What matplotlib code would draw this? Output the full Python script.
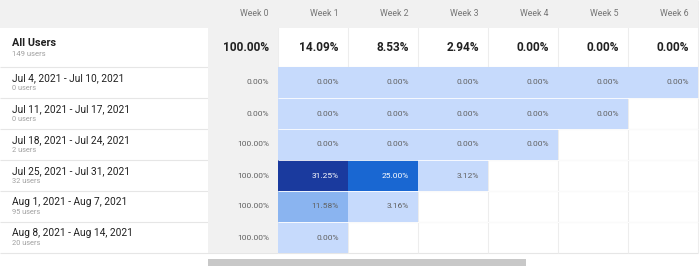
import matplotlib
matplotlib.use("Agg")
import matplotlib.pyplot as plt
from matplotlib.patches import Rectangle
from matplotlib.colors import ListedColormap, BoundaryNorm

plt.rcParams['font.family'] = ['Roboto', 'DejaVu Sans']

weeks = ["Week 0", "Week 1", "Week 2", "Week 3", "Week 4", "Week 5", "Week 6"]
all_users_total = 149
all_users_pct = [100.00, 14.09, 8.53, 2.94, 0.00, 0.00, 0.00]

cohorts = ["Jul 4, 2021 - Jul 10, 2021", "Jul 11, 2021 - Jul 17, 2021",
           "Jul 18, 2021 - Jul 24, 2021", "Jul 25, 2021 - Jul 31, 2021",
           "Aug 1, 2021 - Aug 7, 2021", "Aug 8, 2021 - Aug 14, 2021"]
cohort_users = [0, 0, 2, 32, 95, 20]
retention = [
    [0.00, 0.00, 0.00, 0.00, 0.00, 0.00, 0.00],
    [0.00, 0.00, 0.00, 0.00, 0.00, 0.00],
    [100.00, 0.00, 0.00, 0.00, 0.00],
    [100.00, 31.25, 25.00, 3.12],
    [100.00, 11.58, 3.16],
    [100.00, 0.00],
]

# colour buckets for the heat cells
cmap = ListedColormap(["#c6dafc", "#8ab4f0", "#1967d2", "#1a3a9e"])
norm = BoundaryNorm([0, 5, 20, 28, 100], cmap.N)

# layout in pixels
W, H = 700, 270
label_w = 208
col_w = 70
head_h = 28
all_h = 39
row_h = 31
grid_c = "#e6e6e6"
grey_bg = "#f1f1f1"

fig = plt.figure(figsize=(7, 2.7), dpi=100)
ax = fig.add_axes([0, 0, 1, 1])
ax.set_xlim(0, W)
ax.set_ylim(H, 0)
ax.axis('off')

n_rows = len(cohorts)
bottom = head_h + all_h + n_rows * row_h
right = label_w + col_w * len(weeks)

# header band and week 0 column
ax.add_patch(Rectangle((0, 0), right, head_h, color=grey_bg, lw=0))
ax.add_patch(Rectangle((label_w, head_h), col_w, bottom - head_h, color=grey_bg, lw=0))

for j, wk in enumerate(weeks):
    x1 = label_w + col_w * (j + 1)
    ax.text(x1 - 9, head_h / 2, wk, ha='right', va='center', fontsize=6.3, color="#757575")
    ax.text(x1 - 9, head_h + all_h / 2, f"{all_users_pct[j]:.2f}%", ha='right', va='center',
            fontsize=8.6, fontweight='bold', color="#212121")

ax.text(12, head_h + all_h / 2 - 4, "All Users", ha='left', va='center',
        fontsize=7.8, fontweight='bold', color="#212121")
ax.text(12, head_h + all_h / 2 + 6, f"{all_users_total} users", ha='left', va='center',
        fontsize=5.5, color="#9e9e9e")

for i, (name, n, vals) in enumerate(zip(cohorts, cohort_users, retention)):
    y0 = head_h + all_h + i * row_h
    ax.text(12, y0 + 11, name, ha='left', va='center', fontsize=7.3, color="#212121")
    ax.text(12, y0 + 21.5, f"{n} users", ha='left', va='center', fontsize=5.3, color="#a0a0a0")
    for j, v in enumerate(vals):
        x0 = label_w + col_w * j
        tc = "#616161"
        if j > 0:
            fc = cmap(norm(v))
            ax.add_patch(Rectangle((x0, y0), col_w, row_h, color=fc, lw=0))
            if v >= 20:
                tc = "white"
        ax.text(x0 + col_w - 9, y0 + row_h / 2, f"{v:.2f}%", ha='right', va='center',
                fontsize=6, color=tc)

# grid lines
ax.hlines([head_h + all_h + i * row_h for i in range(n_rows + 1)], 0, right,
          color=grid_c, lw=0.8, zorder=0.5)
for j in range(1, len(weeks) + 1):
    ax.vlines(label_w + col_w * j, 0, bottom, color="#ededed", lw=0.8, zorder=0.5)
for i in range(n_rows - 1):
    y = head_h + all_h + (i + 1) * row_h
    ax.hlines(y, label_w + col_w, right, color="white", lw=0.6, zorder=2)

# scrollbar
ax.add_patch(Rectangle((label_w, 259), 318, 7, color="#c8c8c8", lw=0))

fig.savefig("out.png", dpi=100)
